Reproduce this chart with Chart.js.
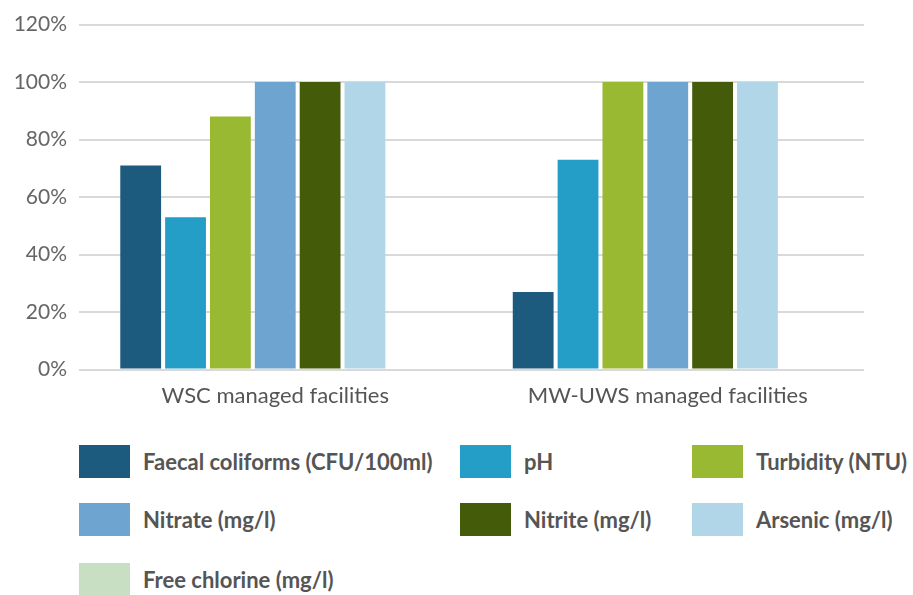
<!DOCTYPE html>
<html>
<head>
<meta charset="utf-8">
<script src="https://cdn.jsdelivr.net/npm/chart.js@4"></script>
<style>
  body { margin: 0; background: #fff; }
  #wrap { position: relative; width: 913px; height: 595px; }
  #box { position: absolute; left: 0; top: 0; width: 913px; height: 414px; }
  .item { position: absolute; height: 33px; font-family: Lato, sans-serif; font-weight: bold; font-size: 22px; color: #555; }
  .sw { position: absolute; left: 0; top: 0; width: 51px; height: 33px; }
  .lbl { position: absolute; top: 3px; white-space: nowrap; }
</style>
</head>
<body>
<div id="wrap">
  <div id="box"><canvas id="myChart"></canvas></div>
  <div id="legend"></div>
</div>
<script>
// categories and series
var categories = ['WSC managed facilities', 'MW-UWS managed facilities'];
var seriesNames = ['Faecal coliforms (CFU/100ml)', 'pH', 'Turbidity (NTU)', 'Nitrate (mg/l)', 'Nitrite (mg/l)', 'Arsenic (mg/l)', 'Free chlorine (mg/l)'];
var faecal = [71, 27];
var ph = [53, 73];
var turbidity = [88, 100];
var nitrate = [100, 100];
var nitrite = [100, 100];
var arsenic = [100, 100];
var freeChlorine = [0, 0];
var yTicks = [0, 20, 40, 60, 80, 100, 120];

var colors = ['#1d5b7e', '#249ec7', '#9ab933', '#6ea4d0', '#445c09', '#b1d6e8', '#c9dfc4'];
var values = [faecal, ph, turbidity, nitrate, nitrite, arsenic, freeChlorine];

var datasets = seriesNames.map(function (name, i) {
    return {
        label: name,
        data: values[i],
        backgroundColor: colors[i],
        borderWidth: 0,
        categoryPercentage: 0.8,
        barPercentage: 0.91
    };
});

var ctx = document.getElementById('myChart').getContext('2d');
var chart = new Chart(ctx, {
    type: 'bar',
    data: { labels: categories, datasets: datasets },
    options: {
        responsive: true,
        maintainAspectRatio: false,
        animation: false,
        layout: { padding: { top: 12, right: 49, left: 0, bottom: 0 } },
        plugins: { legend: { display: false }, tooltip: { enabled: false } },
        scales: {
            x: {
                grid: { display: false },
                border: { display: false },
                ticks: { color: '#555', font: { family: 'Lato', size: 22 }, padding: 5 }
            },
            y: {
                min: 0,
                max: 120,
                afterBuildTicks: function (scale) {
                    scale.ticks = yTicks.map(function (v) { return { value: v }; });
                },
                afterFit: function (scale) { scale.width = 79; },
                grid: { color: '#d9d9d9', lineWidth: 2, drawTicks: false },
                border: { display: false },
                ticks: {
                    color: '#666',
                    padding: 12,
                    font: { family: 'Lato', size: 21 },
                    callback: function (v) { return v + '%'; }
                }
            }
        }
    }
});

// legend in three columns
var colX = [79, 460, 692];
var rowY = [445, 503, 563];
var legend = document.getElementById('legend');
seriesNames.forEach(function (name, i) {
    var d = document.createElement('div');
    d.className = 'item';
    d.style.left = colX[i % 3] + 'px';
    d.style.top = rowY[Math.floor(i / 3)] + 'px';
    d.innerHTML = '<div class="sw" style="background:' + colors[i] + '"></div>' +
        '<div class="lbl" style="left:' + 64 + 'px">' + name + '</div>';
    legend.appendChild(d);
});
</script>
</body>
</html>
